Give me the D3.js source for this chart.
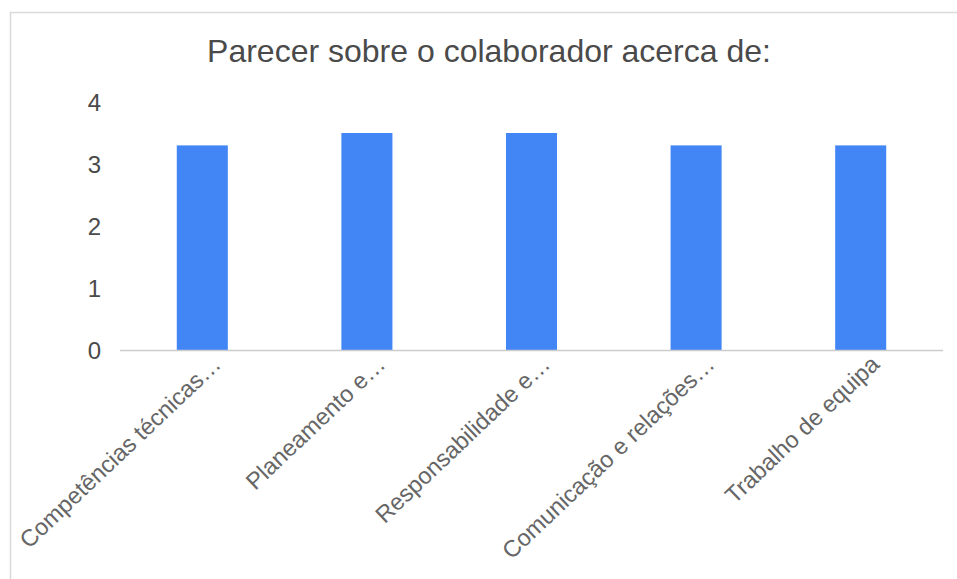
<!DOCTYPE html>
<html><head><meta charset="utf-8">
<script src="https://cdn.jsdelivr.net/npm/d3@7"></script>
<style>html,body{margin:0;padding:0;background:#fff}svg{display:block}</style>
</head><body>
<svg id="c" width="957" height="579"></svg>
<script>
const title = "Parecer sobre o colaborador acerca de:";
const categories = ["Competências técnicas…", "Planeamento e…", "Responsabilidade e…", "Comunicação e relações…", "Trabalho de equipa"];
const values = [3.3, 3.5, 3.5, 3.3, 3.3];
const yTicks = [0, 1, 2, 3, 4];

const svg = d3.select("#c");
const font = "Arial, 'Liberation Sans', sans-serif";

// card border
svg.append("rect").attr("x", 10.5).attr("y", 12.5).attr("width", 1000).attr("height", 1000)
  .attr("fill", "#fff").attr("stroke", "#dadada").attr("stroke-width", 1.5);

const x = d3.scaleBand().domain(categories).range([120, 943]).paddingInner(0.69).paddingOuter(0.345);
const y = d3.scaleLinear().domain([0, 4]).range([350, 102]);

svg.append("text").attr("x", 489).attr("y", 62).attr("text-anchor", "middle")
  .attr("font-family", font).attr("font-size", 32).attr("fill", "#4a4a4a").text(title);

// y axis labels
const yAxis = d3.axisLeft(y).tickValues(yTicks).tickSize(0).tickPadding(0).tickFormat(d3.format("d"));
const ya = svg.append("g").attr("transform", "translate(101,0)").call(yAxis);
ya.select(".domain").remove();
ya.selectAll("text").attr("font-family", font).attr("font-size", 24).attr("fill", "#4a4a4a").attr("dy", "0.35em");

// bars
svg.append("g").selectAll("rect").data(values).join("rect")
  .attr("x", (d, i) => x(categories[i]))
  .attr("width", x.bandwidth())
  .attr("y", d => y(d))
  .attr("height", d => y(0) - y(d))
  .attr("fill", "#4285f4");

// baseline
svg.append("line").attr("x1", 120).attr("x2", 943).attr("y1", y(0) + 0.5).attr("y2", y(0) + 0.5)
  .attr("stroke", "#cccccc").attr("stroke-width", 1.5);

// x labels
const xa = svg.append("g").attr("transform", `translate(0,${y(0)})`)
  .call(d3.axisBottom(x).tickSize(0).tickPadding(0));
xa.select(".domain").remove();
xa.selectAll(".tick text")
  .attr("font-family", font).attr("font-size", 23.5).attr("fill", "#666666")
  .attr("text-anchor", "end").attr("y", 0).attr("dy", 0)
  .attr("transform", "translate(20,16) rotate(-43.5)");
</script>
</body></html>
